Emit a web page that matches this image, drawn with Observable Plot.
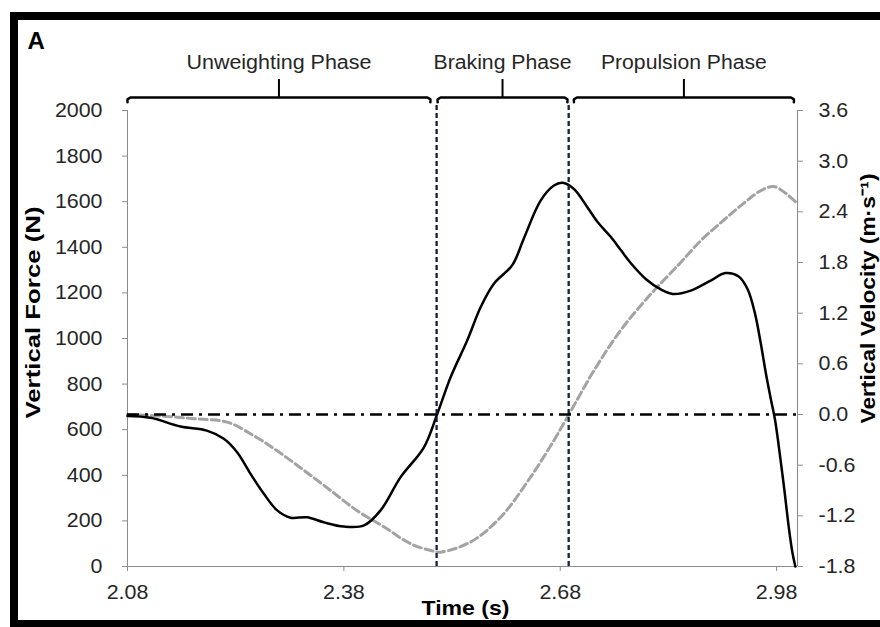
<!DOCTYPE html>
<html>
<head>
<meta charset="utf-8">
<script src="https://cdn.jsdelivr.net/npm/d3@7"></script>
<script src="https://cdn.jsdelivr.net/npm/@observablehq/plot@0.6"></script>
<style>
  body { margin: 0; background: #fff; }
  #wrap { position: relative; width: 880px; height: 627px; overflow: hidden; background: #fff; }
  #frame { position: absolute; left: 10px; top: 12px; width: 1000px; height: 615px; box-sizing: border-box;
           border-top: 8px solid #000; border-left: 8px solid #000; border-bottom: 7px solid #000; pointer-events: none; }
  #wrap svg { position: absolute; left: 0; top: 0; }
</style>
</head>
<body>
<div id="wrap"><div id="frame"></div></div>
<script>
// ---- data ----
const xTicks = [2.08, 2.38, 2.68, 2.98];
const forceTicks = [0, 200, 400, 600, 800, 1000, 1200, 1400, 1600, 1800, 2000];
const velocityTicks = [-1.8, -1.2, -0.6, 0.0, 0.6, 1.2, 1.8, 2.4, 3.0, 3.6];
const xEnd = 3.009;

const phaseNames = ["Unweighting Phase", "Braking Phase", "Propulsion Phase"];
const bracketStart = [2.080, 2.510, 2.699];
const bracketEnd = [2.500, 2.690, 3.004];
const phaseBoundaries = [2.5086, 2.6917];

const forceTime = [2.080, 2.112, 2.1535, 2.190, 2.2136, 2.232, 2.2506, 2.269, 2.2876, 2.306, 2.329, 2.352, 2.380, 2.408,
  2.4309, 2.4587, 2.491, 2.5096, 2.528, 2.551, 2.5696, 2.588, 2.6136, 2.6297, 2.6528, 2.6713, 2.683, 2.699, 2.7176,
  2.7315, 2.750, 2.764, 2.778, 2.799, 2.820, 2.836, 2.861, 2.8886, 2.909, 2.9275, 2.940, 2.950, 2.958, 2.965, 2.972,
  2.978, 2.985, 2.991, 2.997, 3.002, 3.006];
const force = [660, 652, 614, 596, 560, 501, 406, 319, 246, 214, 216, 194, 175, 180,
  246, 392, 523, 670, 830, 991, 1137, 1240, 1322, 1440, 1605, 1671, 1683, 1656, 1576,
  1512, 1446, 1388, 1330, 1260, 1214, 1195, 1210, 1254, 1287, 1272, 1215, 1110, 980, 850, 735,
  640, 480, 330, 170, 60, 0];

const velocityTime = [2.080, 2.130, 2.172, 2.218, 2.255, 2.2876, 2.3245, 2.3616, 2.3986, 2.4355, 2.4725, 2.505, 2.514,
  2.5557, 2.597, 2.639, 2.671, 2.692, 2.7268, 2.764, 2.805, 2.847, 2.875, 2.9025, 2.930, 2.958, 2.976, 2.9926, 3.006];
const velocity = [0, -0.02, -0.05, -0.09, -0.25, -0.43, -0.66, -0.90, -1.14, -1.33, -1.53, -1.62, -1.63,
  -1.51, -1.22, -0.74, -0.31, 0, 0.52, 1.0, 1.42, 1.80, 2.06, 2.27, 2.47, 2.65, 2.70, 2.62, 2.52];

// ---- derived ----
const fMin = forceTicks[0], fMax = forceTicks[forceTicks.length - 1];
const vMin = velocityTicks[0], vMax = velocityTicks[velocityTicks.length - 1];
const vToF = v => fMin + (v - vMin) / (vMax - vMin) * (fMax - fMin);
const forceData = forceTime.map((t, i) => ({t, f: force[i]}));
const velData = velocityTime.map((t, i) => ({t, f: vToF(velocity[i])}));
const velTickPos = velocityTicks.map(vToF);
const velLabel = d => {
  const i = velTickPos.findIndex(p => Math.abs(p - d) < 1e-6);
  return i < 0 ? "" : velocityTicks[i].toFixed(1);
};

// bracket geometry (annotation, in force units above the frame)
const yTop = 2057, yMid = 2049, yEnd = 2036, yTick = 2136, yLabel = 2210, r = 0.004;
const bracketRows = [];
phaseNames.forEach((name, i) => {
  const s = bracketStart[i], e = bracketEnd[i];
  [[s, yEnd], [s, yMid], [s + r, yTop], [e - r, yTop], [e, yMid], [e, yEnd]]
    .forEach(([t, f]) => bracketRows.push({t, f, z: name}));
});
const centers = phaseNames.map((n, i) => (bracketStart[i] + bracketEnd[i]) / 2);

const font = "'Liberation Sans', Arial, Helvetica, sans-serif";
const axisColor = "#8c8c8c";
const labelColor = "#262626";
const forceTitle = "Vertical Force (N)";
const velTitle = "Vertical Velocity (m\u00b7s\u207b\u00b9)";
const timeTitle = "Time (s)";

const chart = Plot.plot({
  width: 880,
  height: 627,
  marginLeft: 127,
  marginRight: 83,
  marginTop: 110,
  marginBottom: 61,
  style: {fontFamily: font, fontSize: "20px", background: "transparent", overflow: "visible"},
  x: {domain: [xTicks[0], xEnd]},
  y: {domain: [fMin, fMax]},
  marks: [
    Plot.ruleY([fMin], {stroke: axisColor, strokeWidth: 1}),
    Plot.ruleX([xTicks[0], xEnd], {stroke: axisColor, strokeWidth: 1}),
    Plot.axisX({ticks: xTicks, tickFormat: d => d.toFixed(2), tickSize: 5, tickPadding: 13, stroke: axisColor, fill: labelColor, label: null, fontSize: 20}),
    Plot.axisY({ticks: forceTicks, tickFormat: d => String(d), anchor: "left", tickSize: 5, tickPadding: 20, stroke: axisColor, fill: labelColor, label: null, fontSize: 20}),
    Plot.axisY({ticks: velTickPos, tickFormat: velLabel, anchor: "right", tickSize: 5, tickPadding: 16, stroke: axisColor, fill: labelColor, label: null, fontSize: 20}),

    Plot.line(velData, {x: "t", y: "f", stroke: "#a3a3a3", strokeWidth: 3, strokeDasharray: "8,4", curve: "catmull-rom"}),
    Plot.line(forceData, {x: "t", y: "f", stroke: "#000", strokeWidth: 2.5, curve: "catmull-rom"}),
    Plot.ruleX(phaseBoundaries, {y1: fMin, y2: 2030, stroke: "#14213d", strokeWidth: 2.3, strokeDasharray: "5,3"}),
    Plot.ruleY([vToF(0)], {stroke: "#000", strokeWidth: 2.5, strokeDasharray: "12,6,3,6"}),

    Plot.line(bracketRows, {x: "t", y: "f", z: "z", stroke: "#000", strokeWidth: 2.5}),
    Plot.ruleX(centers, {y1: yTop, y2: yTick, stroke: "#000", strokeWidth: 2}),
    Plot.text(phaseNames, {x: (d, i) => centers[i], y: yLabel, text: d => d, fill: labelColor, fontSize: 20, lineAnchor: "middle"}),

    Plot.text(["A"], {frameAnchor: "top-left", dx: -100, dy: -69, textAnchor: "start", lineAnchor: "middle", fontWeight: "bold", fontSize: 24, fill: "#000"}),
    Plot.text([forceTitle], {frameAnchor: "left", dx: -94, dy: -26, rotate: -90, textAnchor: "middle", lineAnchor: "middle", fontWeight: "bold", fontSize: 21, fill: "#000"}),
    Plot.text([velTitle], {frameAnchor: "right", dx: 71, dy: -40, rotate: -90, textAnchor: "middle", lineAnchor: "middle", fontWeight: "bold", fontSize: 21, fill: "#000"}),
    Plot.text([timeTitle], {frameAnchor: "bottom", dx: 3, dy: 42, textAnchor: "middle", lineAnchor: "middle", fontWeight: "bold", fontSize: 21, fill: "#000"})
  ]
});
document.getElementById("wrap").insertBefore(chart, document.getElementById("frame"));

// the reference's lettering is slightly wider than the font: stretch text to the measured lengths
const targetLength = new Map([
  [forceTitle, 212], [velTitle, 250], [timeTitle, 88],
  ["Unweighting Phase", 185], ["Braking Phase", 138], ["Propulsion Phase", 166]
]);
d3.select(chart).selectAll("text").each(function () {
  const s = this.textContent;
  if (s === "A" || !s) return;
  const len = targetLength.has(s) ? targetLength.get(s) : this.getComputedTextLength() * 1.07;
  this.setAttribute("textLength", len.toFixed(1));
  this.setAttribute("lengthAdjust", "spacingAndGlyphs");
});
</script>
</body>
</html>
